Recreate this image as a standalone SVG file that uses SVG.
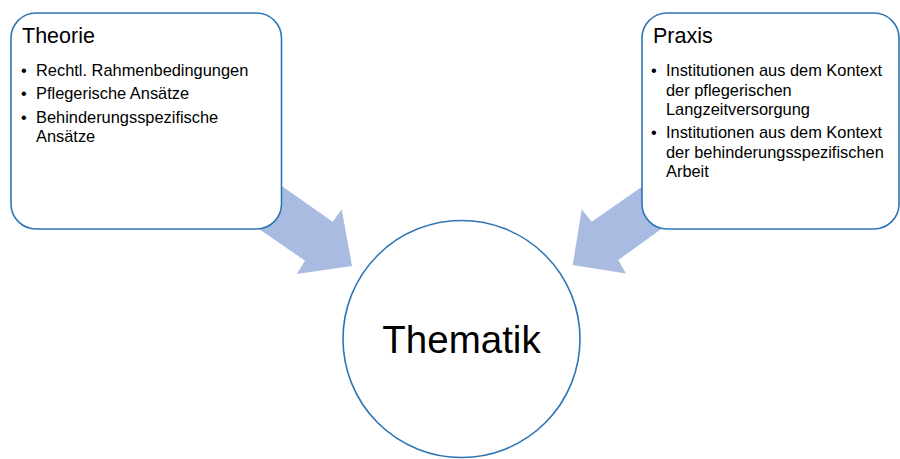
<svg xmlns="http://www.w3.org/2000/svg" width="900" height="459" viewBox="0 0 900 459">
<style>
.box{fill:#ffffff;stroke:#2E75B6;stroke-width:1.6}
.arrow{fill:#A9BBE0;stroke:none}
.t{font-family:"Liberation Sans",Arial,sans-serif;fill:#000000}
.title{font-size:21.5px}
.item{font-size:16.4px}
.big{font-size:38.5px}
</style>
<rect width="900" height="459" fill="#ffffff"/>
<g id="connectors">
<polygon class="arrow" points="233.6,152.3 332.7,221.7 341.7,209.3 352,266 296.7,274 305,260.7 211,196"/>
<polygon class="arrow" points="690.7,152.7 591.7,221.7 581.7,209.3 572.7,265 626,273.5 618.3,260 707,196"/>
</g>
<g id="theorie">
<rect class="box" x="11" y="13" width="270.5" height="216" rx="25" ry="25"/>
<text class="t title" x="22" y="43">Theorie</text>
<text class="t item" x="21" y="76">•</text>
<text class="t item" x="36" y="76">Rechtl. Rahmenbedingungen</text>
<text class="t item" x="21" y="99">•</text>
<text class="t item" x="36" y="99">Pflegerische Ansätze</text>
<text class="t item" x="21" y="122.5">•</text>
<text class="t item" x="36" y="122.5">Behinderungsspezifische</text>
<text class="t item" x="36" y="141.5">Ansätze</text>
</g>
<g id="praxis">
<rect class="box" x="642" y="13" width="257" height="216" rx="25" ry="25"/>
<text class="t title" x="653" y="43">Praxis</text>
<text class="t item" x="651" y="76">•</text>
<text class="t item" x="666" y="76">Institutionen aus dem Kontext</text>
<text class="t item" x="666" y="95.5">der pflegerischen</text>
<text class="t item" x="666" y="115">Langzeitversorgung</text>
<text class="t item" x="651" y="138">•</text>
<text class="t item" x="666" y="138">Institutionen aus dem Kontext</text>
<text class="t item" x="666" y="157.5">der behinderungsspezifischen</text>
<text class="t item" x="666" y="177">Arbeit</text>
</g>
<g id="thematik">
<circle class="box" cx="461.5" cy="339" r="118.5"/>
<text class="t big" x="461.5" y="353" text-anchor="middle">Thematik</text>
</g>
</svg>
